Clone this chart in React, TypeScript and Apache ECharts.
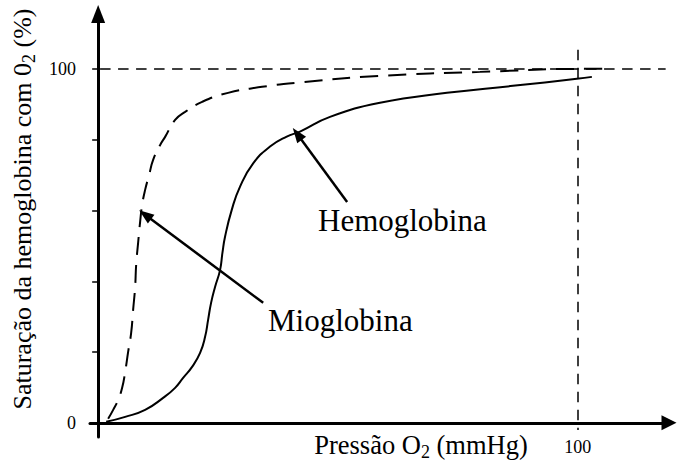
import React, { useEffect, useRef } from "react";
import * as echarts from "echarts";

// Hemoglobin saturation curve (solid) — O2 pressure (mmHg) vs saturation (%)
const hemoX = [1.67, 5.63, 9.79, 13.54, 16.04, 17.71, 19.58, 21.25, 22.29, 22.92, 23.54, 24.38, 25.42, 25.9, 26.46, 27.85, 29.58, 32.35, 35.83, 39.31, 42.08, 48.33, 58.75, 72.71, 86.46, 99.79, 102.92];
const hemoY = [0.28, 1.69, 3.67, 7.06, 9.89, 12.71, 15.82, 19.77, 24.29, 29.1, 33.9, 38.42, 43.22, 47.94, 52.63, 60.17, 66.75, 73.36, 78.05, 80.88, 82.29, 86.44, 90.4, 93.22, 95.2, 97.18, 97.74];

// Myoglobin saturation curve (dashed)
const myoX = [2.08, 3.13, 4.17, 5.0, 5.63, 6.25, 6.88, 7.29, 7.71, 7.92, 8.33, 8.75, 9.17, 9.79, 10.63, 11.46, 12.92, 13.96, 16.04, 18.13, 21.67, 27.08, 34.17, 41.04, 58.75, 79.58, 102.5, 106.67];
const myoY = [1.13, 3.67, 6.5, 9.89, 14.41, 20.06, 25.42, 31.92, 38.42, 44.63, 50.85, 56.78, 61.58, 65.82, 70.06, 74.29, 78.5, 80.79, 85.59, 87.85, 90.68, 93.22, 94.92, 96.05, 98.02, 99.15, 100, 100];

// Tick labels
const yTickValues = [0, 20, 40, 60, 80, 100];
const yLabelValues = [0, 100];
const xLabelValues = [100];

// Reference lines (at 100 %, at 100 mmHg)
const hRef = [[0.4, 100], [118.3, 100]];
const vRef = [[100, 105.4], [100, -2]];

// Annotation arrows [tail, head]
const hemoArrow = [[51.9, 62.4], [41.5, 81.6]];
const myoArrow = [[34.4, 33.9], [9.8, 58.8]];

// Titles as [text, isSubscript] pieces
const yTitleParts: [string, boolean][] = [["Saturação da hemoglobina com 0", false], ["2", true], [" (%)", false]];
const xTitleParts: [string, boolean][] = [["Pressão O", false], ["2", true], [" (mmHg)", false]];

const FAMILY = "'Liberation Serif', 'Times New Roman', serif";
const font = (size: number) => `${size}px ${FAMILY}`;

let measureCtx: CanvasRenderingContext2D | null = null;
function measure(text: string, size: number): number {
  if (!measureCtx) measureCtx = document.createElement("canvas").getContext("2d");
  if (!measureCtx) return text.length * size * 0.45;
  measureCtx.font = font(size);
  return measureCtx.measureText(text).width;
}

function titleGroup(parts: [string, boolean][], x: number, y: number, rotation: number, main: number, sub: number) {
  const widths = parts.map(([t, s]) => measure(t, s ? sub : main));
  const total = widths.reduce((a, b) => a + b, 0);
  let cx = -total / 2;
  const children = parts.map(([t, s], i) => {
    const el = {
      type: "text",
      x: cx,
      y: s ? 7 : 0,
      style: {
        text: t,
        font: font(s ? sub : main),
        fill: "#000",
        align: "left",
        verticalAlign: "middle",
      },
    };
    cx += widths[i];
    return el;
  });
  return { type: "group", x, y, rotation, children };
}

export default function App() {
  const ref = useRef<HTMLDivElement>(null);
  useEffect(() => {
    if (!ref.current) return;
    const chart = echarts.init(ref.current, undefined, { renderer: "svg" });
    const zip = (xs: number[], ys: number[]) => xs.map((x, i) => [x, ys[i]]);
    const dashStyle = { color: "#000", width: 1.5, type: [10.5, 7.5] as any };
    const arrowStyle = { color: "#000", width: 2.5, type: "solid" as any };
    const option: any = {
      animation: false,
      backgroundColor: "#fff",
      grid: { left: 90, width: 579, top: 14, height: 423 },
      xAxis: {
        type: "value",
        min: -1.7,
        max: 119,
        axisLine: {
          onZero: true,
          lineStyle: { color: "#000", width: 3 },
          symbol: ["none", "triangle"],
          symbolSize: [15, 15],
        },
        axisTick: { show: false },
        splitLine: { show: false },
        axisLabel: {
          customValues: xLabelValues,
          fontSize: 18,
          color: "#000",
          fontFamily: FAMILY,
          margin: 1,
        },
      },
      yAxis: {
        type: "value",
        min: -4,
        max: 115.5,
        axisLine: {
          onZero: true,
          lineStyle: { color: "#000", width: 3 },
          symbol: ["none", "triangle"],
          symbolSize: [14, 18],
        },
        axisTick: {
          show: true,
          customValues: yTickValues,
          length: 6,
          lineStyle: { color: "#000", width: 1.5 },
        },
        splitLine: { show: false },
        axisLabel: {
          customValues: yLabelValues,
          fontSize: 18,
          color: "#000",
          fontFamily: FAMILY,
          margin: 14,
        },
      },
      series: [
        {
          name: "Hemoglobina",
          type: "line",
          data: zip(hemoX, hemoY),
          showSymbol: false,
          smooth: 0.5,
          clip: false,
          lineStyle: { color: "#000", width: 2 },
          emphasis: { disabled: true },
          markLine: {
            silent: true,
            animation: false,
            symbol: ["none", "none"],
            label: { show: false },
            emphasis: { disabled: true },
            data: [
              [
                { coord: hRef[0], lineStyle: dashStyle },
                { coord: hRef[1], lineStyle: dashStyle },
              ],
              [
                { coord: vRef[0], lineStyle: dashStyle },
                { coord: vRef[1], lineStyle: dashStyle },
              ],
              [
                { coord: hemoArrow[0], lineStyle: arrowStyle },
                { coord: hemoArrow[1], lineStyle: arrowStyle, symbol: "triangle", symbolSize: [11, 15] },
              ],
              [
                { coord: myoArrow[0], lineStyle: arrowStyle },
                { coord: myoArrow[1], lineStyle: arrowStyle, symbol: "triangle", symbolSize: [11, 15] },
              ],
            ],
          },
        },
        {
          name: "Mioglobina",
          type: "line",
          data: zip(myoX, myoY),
          showSymbol: false,
          smooth: 0.5,
          clip: false,
          lineStyle: { color: "#000", width: 2, type: [18, 10] },
          emphasis: { disabled: true },
        },
      ],
      graphic: [
        titleGroup(yTitleParts, 22, 209, Math.PI / 2, 26, 18),
        titleGroup(xTitleParts, 421, 445, 0, 26.5, 18),
        {
          type: "text",
          x: 318,
          y: 220,
          style: {
            text: "Hemoglobina",
            font: font(31),
            fill: "#000",
            align: "left",
            verticalAlign: "middle",
          },
        },
        {
          type: "text",
          x: 268,
          y: 320,
          style: {
            text: "Mioglobina",
            font: font(31),
            fill: "#000",
            align: "left",
            verticalAlign: "middle",
          },
        },
      ],
    };
    chart.setOption(option);
    return () => chart.dispose();
  }, []);
  return <div ref={ref} style={{ width: 679, height: 465, position: "absolute", left: 0, top: 0 }} />;
}
